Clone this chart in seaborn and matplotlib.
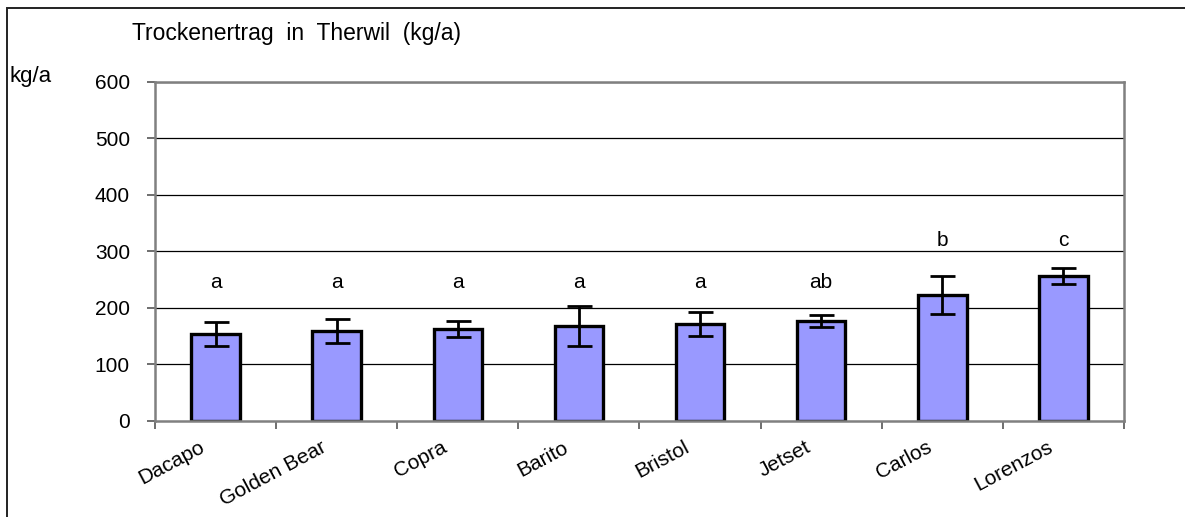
import matplotlib
matplotlib.use('Agg')
import matplotlib.pyplot as plt
import matplotlib.transforms as mtrans
import seaborn as sns
import pandas as pd
from matplotlib.patches import Rectangle

# values (kg/a)
sorten = ['Dacapo', 'Golden Bear', 'Copra', 'Barito', 'Bristol', 'Jetset', 'Carlos', 'Lorenzos']
ertrag = [154, 159, 163, 168, 172, 177, 223, 257]
fehler = [22, 21, 14, 36, 21, 11, 33, 14]
buchstaben = ['a', 'a', 'a', 'a', 'a', 'ab', 'b', 'c']
buchstaben_y = [245, 245, 245, 245, 245, 245, 320, 320]
y_ticks = [0, 100, 200, 300, 400, 500, 600]

df = pd.DataFrame({'Sorte': sorten, 'Ertrag': ertrag})

sns.set_style('white')
plt.rcParams['font.family'] = ['Liberation Sans', 'DejaVu Sans']
plt.rcParams['text.color'] = 'black'
plt.rcParams['xtick.color'] = 'black'
plt.rcParams['ytick.color'] = 'black'

fig = plt.figure(figsize=(11.85, 5.17), dpi=100)
ax = fig.add_axes([0.1308, 0.1857, 0.8177, 0.6557])

sns.barplot(data=df, x='Sorte', y='Ertrag', color='#9999FF', saturation=1,
            edgecolor='black', linewidth=2.4, width=0.4, errorbar=None, ax=ax)
ax.errorbar(range(len(sorten)), ertrag, yerr=fehler, fmt='none', ecolor='black',
            elinewidth=2, capsize=9, capthick=2, zorder=5)

for i, (b, yb) in enumerate(zip(buchstaben, buchstaben_y)):
    ax.text(i, yb, b, ha='center', va='center', fontsize=15)

ax.set_ylim(0, 600)
ax.set_xlim(-0.5, len(sorten) - 0.5)
ax.set_yticks(y_ticks)
ax.set_yticklabels([str(t) for t in y_ticks], fontsize=15)
for t in y_ticks[1:]:
    ax.axhline(t, color='black', linewidth=0.9, zorder=0)

# ticks on the category boundaries
ax.set_xticks([i - 0.5 for i in range(len(sorten) + 1)], minor=False)
ax.set_xticklabels([''] * (len(sorten) + 1))
ax.tick_params(axis='x', which='major', direction='out', length=6, color='#555555', width=1.2, bottom=True)
ax.tick_params(axis='y', direction='out', length=6, color='#555555', width=1.2, left=True, pad=12)
ax.set_xticks(range(len(sorten)), minor=True)
ax.set_xticklabels(sorten, minor=True, rotation=28, ha='right', va='top',
                   rotation_mode='anchor', fontsize=15)
ax.tick_params(axis='x', which='minor', length=0, pad=12)
shift = mtrans.ScaledTranslation(-12 / 72, 0, fig.dpi_scale_trans)
for lbl in ax.get_xticklabels(minor=True):
    lbl.set_transform(lbl.get_transform() + shift)

for s in ax.spines.values():
    s.set_visible(True)
    s.set_color('#808080')
    s.set_linewidth(1.8)

ax.set_xlabel('')
ax.set_ylabel('')
fig.text(0.008, 0.852, 'kg/a', fontsize=16, va='center', ha='left')
fig.text(0.25, 0.935, 'Trockenertrag  in  Therwil  (kg/a)', fontsize=16.5, ha='center', va='center')

# outer frame: only top and left edges fall inside the picture
fig.patches.append(Rectangle((0.006, -0.05), 1.2, 1.035, transform=fig.transFigure,
                             fill=False, edgecolor='#222222', linewidth=1.4))

fig.savefig('out.png', dpi=100)
